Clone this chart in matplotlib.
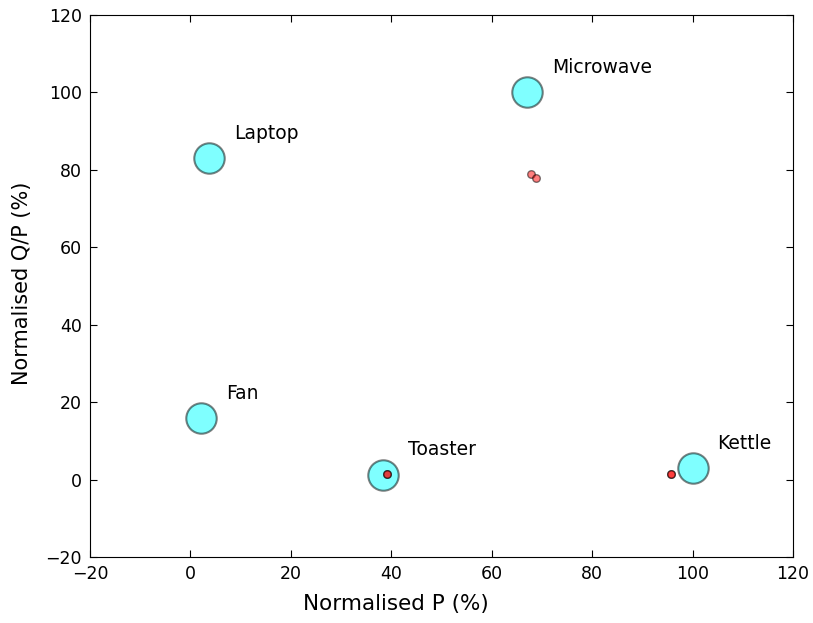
import matplotlib
matplotlib.use("Agg")
import matplotlib.pyplot as plt

# appliance signatures (cyan) and measured points (red)
appliances = ["Laptop", "Microwave", "Fan", "Toaster", "Kettle"]
p_norm = [3.7, 67.0, 2.1, 38.4, 100.0]
qp_norm = [83.0, 100.0, 15.8, 1.2, 2.9]

meas_p = [67.8, 68.8, 39.2, 39.2, 95.8, 95.8]
meas_qp = [79.0, 78.0, 1.5, 1.5, 1.5, 1.5]

plt.rcParams['font.family'] = ['DejaVu Sans']

fig = plt.figure(figsize=(8.13, 6.23), dpi=100)
ax = fig.add_axes([0.1107, 0.1059, 0.8647, 0.87])

ax.scatter(p_norm, qp_norm, s=480, c='cyan', alpha=0.5, edgecolors='black', linewidths=1.5, zorder=2)
ax.scatter(meas_p, meas_qp, s=30, c='red', alpha=0.5, edgecolors='black', linewidths=1, zorder=3)

for nom, x, y in zip(appliances, p_norm, qp_norm):
    ax.annotate(nom, (x, y), xytext=(25, 25), textcoords='offset pixels',
                fontsize=13.5, ha='left', va='center')

ax.set_xlim(-20, 120)
ax.set_ylim(-20, 120)
ax.set_xticks(range(-20, 121, 20))
ax.set_yticks(range(-20, 121, 20))
ax.tick_params(direction='in', top=True, right=True, labelsize=12.5, length=5, pad=6)
ax.set_xlabel("Normalised P (%)", fontsize=15.5)
ax.set_ylabel("Normalised Q/P (%)", fontsize=15)
ax.xaxis.set_label_coords(0.435, -0.068)
ax.yaxis.set_label_coords(-0.083, 0.505)

fig.savefig("out.png", dpi=100)
